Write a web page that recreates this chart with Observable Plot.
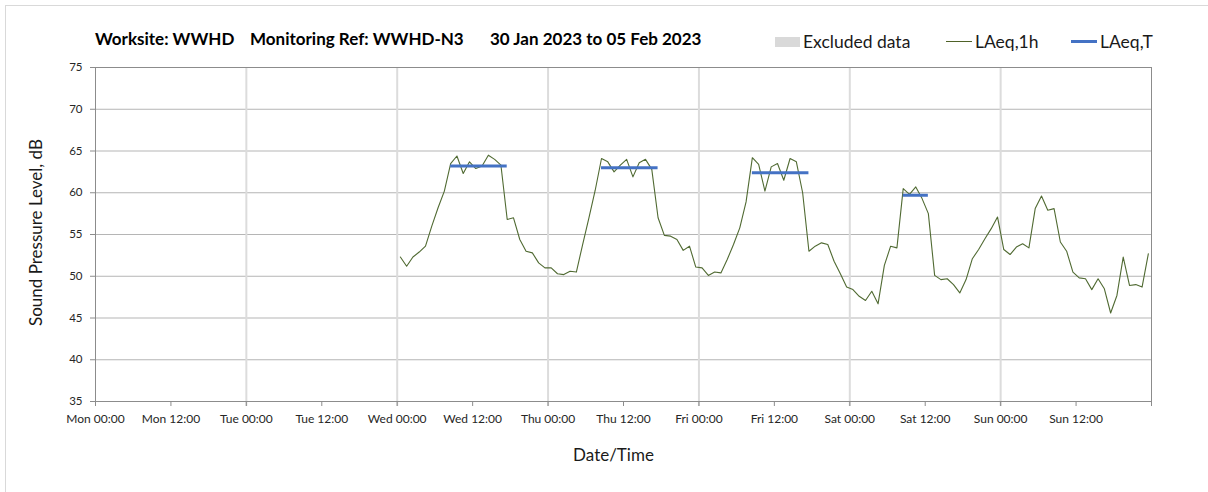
<!DOCTYPE html>
<html>
<head>
<meta charset="utf-8">
<script src="https://cdn.jsdelivr.net/npm/d3@7"></script>
<script src="https://cdn.jsdelivr.net/npm/@observablehq/plot@0.6"></script>
<style>
  html, body { margin: 0; padding: 0; background: #fff; }
  #wrap { position: relative; width: 1208px; height: 492px; overflow: hidden; font-family: Lato, "Open Sans", sans-serif; }
  #frame { position: absolute; left: 5px; top: 5px; width: 1300px; height: 600px; border-left: 1px solid #d9d9d9; border-top: 1px solid #d9d9d9; }
  .title { position: absolute; top: 28px; font-weight: bold; font-size: 17px; color: #000; white-space: pre; }
  .leg { position: absolute; top: 31px; font-size: 17.5px; color: #1a1a1a; white-space: pre; }
  .sw { position: absolute; }
  #chart { position: absolute; left: 0; top: 0; }
</style>
</head>
<body>
<div id="wrap">
  <div id="frame"></div>
  <div id="chart"></div>
  <div class="title" style="left:95px">Worksite: WWHD</div>
  <div class="title" style="left:250px">Monitoring Ref: WWHD-N3</div>
  <div class="title" style="left:490px">30 Jan 2023 to 05 Feb 2023</div>
  <div class="sw" style="left:775px;top:37px;width:25px;height:10px;background:#d9d9d9"></div>
  <div class="leg" style="left:803px">Excluded data</div>
  <div class="sw" style="left:946px;top:41px;width:26px;height:1px;background:#4f6228"></div>
  <div class="leg" style="left:975px">LAeq,1h</div>
  <div class="sw" style="left:1071px;top:40px;width:26px;height:3px;background:#4472c4"></div>
  <div class="leg" style="left:1100px">LAeq,T</div>
</div>
<script>
// ---- data ----
const dayNames = ["Mon", "Tue", "Wed", "Thu", "Fri", "Sat", "Sun"];
const axisStart = "2023-01-30T00:00";
const axisEnd = "2023-02-06T00:00";
const yTicks = [35, 40, 45, 50, 55, 60, 65, 70, 75];
const yGrid = [40, 45, 50, 55, 60, 65, 70];

// LAeq,1h hourly values, first hour plotted at Wed 01 Feb 2023 00:30
const firstHour = "2023-02-01T00:30";
const laeq1h = [
  52.3, 51.2, 52.3, 52.9, 53.6, 56.0, 58.2, 60.2,
  63.5, 64.4, 62.3, 63.7, 62.9, 63.2, 64.5, 64.0, 63.3,
  56.8, 57.0, 54.4, 53.0, 52.8, 51.6, 51.0, 51.0, 50.3, 50.2, 50.6, 50.5,
  53.8, 57.0, 60.3, 64.1,
  63.7, 62.5, 63.3, 64.0, 61.9, 63.6, 64.0, 62.8,
  57.0, 54.9, 54.8, 54.4, 53.1, 53.6, 51.1, 51.0, 50.1, 50.5, 50.4, 52.0, 53.8, 55.8, 58.9,
  64.2, 63.4, 60.2, 63.1, 63.5, 61.5, 64.1, 63.7, 60.0,
  53.0, 53.6, 54.0, 53.8, 51.8, 50.3, 48.7, 48.4, 47.6, 47.1, 48.2, 46.7, 51.3, 53.6, 53.4,
  60.5, 59.8, 60.7, 59.3, 57.5,
  50.1, 49.6, 49.7, 49.0, 48.0, 49.6, 52.1, 53.2, 54.5, 55.7, 57.1,
  53.2, 52.6, 53.5, 53.9, 53.4, 58.1, 59.6, 57.9, 58.1, 54.1, 53.0,
  50.5, 49.8, 49.7, 48.4, 49.7, 48.5, 45.6, 47.7, 52.3, 48.9, 49.0, 48.7, 52.7
];

// LAeq,T periods
const laeqTStart = ["2023-02-01T08:30", "2023-02-02T08:30", "2023-02-03T08:30", "2023-02-04T08:30"];
const laeqTEnd   = ["2023-02-01T17:30", "2023-02-02T17:30", "2023-02-03T17:30", "2023-02-04T12:30"];
const laeqTValues = [63.2, 63.0, 62.4, 59.7];

// ---- build ----
const utc = s => new Date(s + ":00Z");
const t0 = utc(firstHour).getTime();
const hourly = laeq1h.map((v, i) => ({ t: new Date(t0 + i * 3600e3), v }));
const periods = laeqTValues.map((v, i) => ({ a: utc(laeqTStart[i]), b: utc(laeqTEnd[i]), v }));
const xStart = utc(axisStart), xEnd = utc(axisEnd);
const halfDays = d3.utcHour.every(12).range(xStart, xEnd);
const dayLines = d3.utcDay.range(d3.utcDay.offset(xStart, 1), xEnd);
const fmt = d => `${dayNames[(d.getUTCDay() + 6) % 7]} ${String(d.getUTCHours()).padStart(2, "0")}:00`;

const chart = Plot.plot({
  width: 1208,
  height: 492,
  marginLeft: 95,
  marginRight: 57,
  marginTop: 67,
  marginBottom: 91,
  style: { fontFamily: "Lato, 'Open Sans', sans-serif", background: "transparent", overflow: "visible", color: "#262626" },
  x: { type: "utc", domain: [xStart, xEnd] },
  y: { domain: [35, 75] },
  marks: [
    Plot.ruleY(yGrid, { stroke: "#b5b5b5", strokeWidth: 1 }),
    Plot.ruleX(dayLines, { stroke: "#dcdcdc", strokeWidth: 2, insetBottom: -5 }),
    Plot.frame({ stroke: "#8c8c8c" }),
    Plot.ruleX([xEnd], { stroke: "#8c8c8c", insetBottom: -5 }),
    Plot.axisY({ ticks: yTicks, tickSize: 5, tickPadding: 8, fontSize: 11.5, label: null, stroke: "#8c8c8c", tickFormat: d => String(d) }),
    Plot.axisX({ ticks: halfDays, tickSize: 5, tickPadding: 8, fontSize: 12, label: null, tickFormat: fmt, stroke: "#8c8c8c" }),
    Plot.line(hourly, { x: "t", y: "v", stroke: "#506a32", strokeWidth: 1.1 }),
    Plot.ruleY(periods, { y: "v", x1: "a", x2: "b", stroke: "#4472c4", strokeWidth: 3 }),
    Plot.text(["Sound Pressure Level, dB"], { frameAnchor: "left", textAnchor: "middle", dx: -59, dy: -2, rotate: -90, fontSize: 17, fill: "#1a1a1a" }),
    Plot.text(["Date/Time"], { frameAnchor: "bottom", dx: -10, dy: 59, fontSize: 17, fill: "#1a1a1a" })
  ]
});
document.getElementById("chart").appendChild(chart);
</script>
</body>
</html>
